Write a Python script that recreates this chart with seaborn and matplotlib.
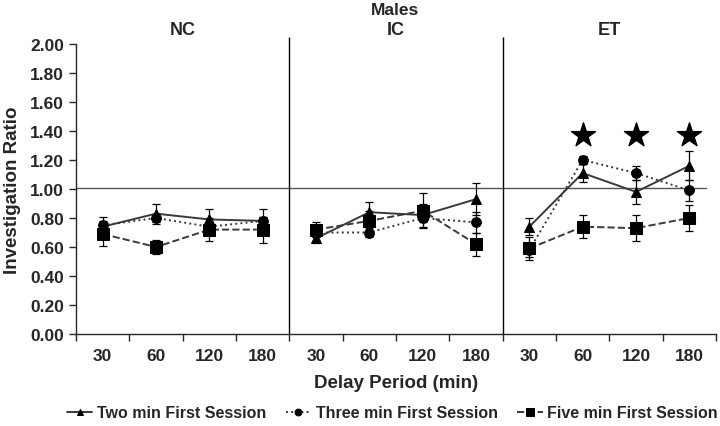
"""Investigation ratio by delay period, males (NC / IC / ET)."""

import matplotlib
matplotlib.use("Agg")
import matplotlib.pyplot as plt
import numpy as np
import pandas as pd
import seaborn as sns

groups = ["NC", "IC", "ET"]
delays = ["30", "60", "120", "180"]

two_min = [0.74, 0.83, 0.79, 0.78, 0.66, 0.84, 0.82, 0.93, 0.74, 1.11, 0.98, 1.16]
two_sem = [0.07, 0.07, 0.07, 0.08, 0.03, 0.07, 0.08, 0.11, 0.06, 0.06, 0.08, 0.10]
three_min = [0.75, 0.80, 0.74, 0.78, 0.70, 0.70, 0.80, 0.77, 0.58, 1.20, 1.11, 0.99]
three_sem = [0.03, 0.03, 0.03, 0.03, 0.03, 0.03, 0.03, 0.07, 0.05, 0.03, 0.05, 0.07]
five_min = [0.69, 0.60, 0.72, 0.72, 0.72, 0.78, 0.85, 0.62, 0.59, 0.74, 0.73, 0.80]
five_sem = [0.08, 0.05, 0.08, 0.09, 0.05, 0.07, 0.12, 0.08, 0.08, 0.08, 0.09, 0.09]

series_names = ["Two min First Session", "Three min First Session", "Five min First Session"]
star_delays = ["60", "120", "180"]   # significant delays in ET group
star_level = 1.37

# long table
rows = []
for name, vals, sems in zip(series_names, [two_min, three_min, five_min],
                            [two_sem, three_sem, five_sem]):
    for i, (v, s) in enumerate(zip(vals, sems)):
        rows.append({"series": name, "group": groups[i // 4], "delay": delays[i % 4],
                     "pos": i, "ratio": v, "err": s})
df = pd.DataFrame(rows)

sns.set_theme(style="ticks")
plt.rcParams["font.family"] = ["Liberation Sans", "DejaVu Sans"]
plt.rcParams["font.weight"] = "bold"

styles = {
    "Two min First Session": dict(marker="^", markersize=7, linestyle="-"),
    "Three min First Session": dict(marker="o", markersize=7, linestyle=":"),
    "Five min First Session": dict(marker="s", markersize=9, linestyle="--"),
}

fig = plt.figure(figsize=(7.2, 4.27), dpi=100)
ax = fig.add_axes([76 / 720, 1 - 335 / 427, 640 / 720, 290 / 427])

for name in series_names:
    st = styles[name]
    for gi, g in enumerate(groups):
        sub = df[(df["series"] == name) & (df["group"] == g)]
        ax.errorbar(sub["pos"], sub["ratio"], yerr=sub["err"], fmt="none", ecolor="black",
                    elinewidth=0.9, capsize=3, capthick=0.9, zorder=2)
        sns.lineplot(data=sub, x="pos", y="ratio", ax=ax, sort=False,
                     color="#3a3a3a", linewidth=1.4, linestyle=st["linestyle"],
                     marker=st["marker"], markersize=st["markersize"],
                     markerfacecolor="black", markeredgecolor="black",
                     label=name if gi == 0 else None, legend=gi == 0, zorder=3)

# significance stars
star_pos = df[(df["series"] == series_names[0]) & (df["group"] == "ET")
              & (df["delay"].isin(star_delays))]["pos"]
ax.scatter(star_pos, [star_level] * len(star_pos), marker="*", s=330,
           color="black", zorder=4, clip_on=False)

ax.axhline(1.01, xmax=0.985, color="#555555", linewidth=1.0, zorder=1)

# group separators and titles
n = len(delays)
for gi, g in enumerate(groups):
    if gi > 0:
        ax.vlines(gi * n - 0.5, 0, 2.05, color="black", linewidth=1.0, clip_on=False)
    ax.text(gi * n + (n - 1) / 2, 2.10, g, ha="center", va="center",
            fontsize=13, fontweight="bold")

npos = len(df["pos"].unique())
ax.set_xlim(-0.5, npos - 0.5)
ax.set_ylim(0, 2.0)
ax.set_yticks(np.arange(0, 2.01, 0.2))
ax.set_yticklabels([f"{v:.2f}" for v in np.arange(0, 2.01, 0.2)])
ax.set_xticks(np.arange(npos))
ax.set_xticklabels(delays * len(groups))
ax.set_xticks(np.arange(-0.5, npos, 1.0), minor=True)
ax.tick_params(axis="x", which="major", length=0, pad=10, labelsize=12.5)
ax.tick_params(axis="x", which="minor", length=5, width=1.0, direction="out")
ax.tick_params(axis="y", length=5, width=1.0, labelsize=12.5)
for lab in ax.get_xticklabels() + ax.get_yticklabels():
    lab.set_fontweight("bold")

ax.spines["top"].set_visible(False)
ax.spines["right"].set_visible(False)
ax.spines["left"].set_linewidth(1.0)
ax.spines["bottom"].set_linewidth(1.0)

ax.set_xlabel("Delay Period (min)", fontsize=13.5, fontweight="bold", labelpad=8)
ax.set_ylabel("Investigation Ratio", fontsize=13.5, fontweight="bold")
ax.yaxis.set_label_coords(-0.086, 0.5)

handles, labels = ax.get_legend_handles_labels()
ax.get_legend().remove()
fig.legend(handles, labels, loc="lower center", bbox_to_anchor=(0.545, -0.02),
           ncol=3, frameon=False, handlelength=1.6, columnspacing=1.2,
           handletextpad=0.3, markerscale=0.7, prop={"size": 11.5, "weight": "bold"})

fig.text(0.549, 0.976, "Males", ha="center", va="center", fontsize=12.5, fontweight="bold")

fig.savefig("out.png", dpi=100)
